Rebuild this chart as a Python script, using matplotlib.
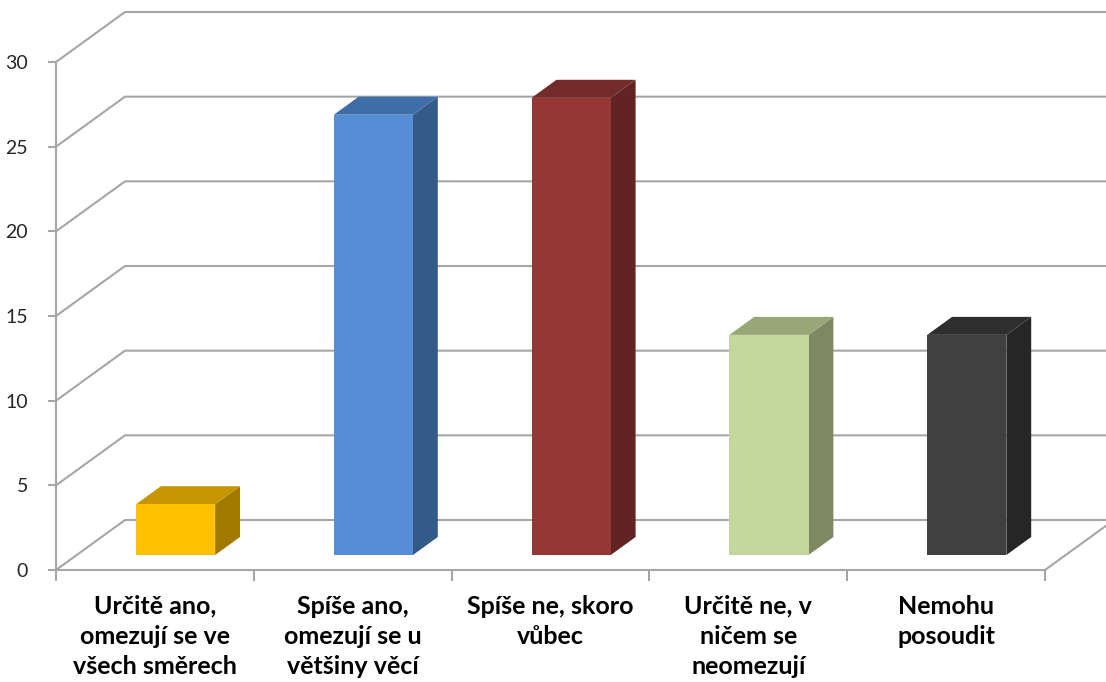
import matplotlib.pyplot as plt
import numpy as np

plt.rcParams['font.family'] = ['Lato', 'DejaVu Sans']

categories = ["Určitě ano,\nomezují se ve\nvšech směrech",
              "Spíše ano,\nomezují se u\nvětšiny věcí",
              "Spíše ne, skoro\nvůbec",
              "Určitě ne, v\nničem se\nneomezují",
              "Nemohu\nposoudit"]
values = [3, 26, 27, 13, 13]
front_cols = ["#FFC000", "#558ED5", "#953735", "#C3D69B", "#404040"]
top_cols = ["#C79500", "#3F6DA7", "#722B2A", "#97A777", "#2E2E2E"]
side_cols = ["#A37A00", "#345A88", "#612423", "#7E8964", "#262626"]
yticks = [0, 5, 10, 15, 20, 25, 30]

W, H = 1106, 682
fig = plt.figure(figsize=(W / 100, H / 100), dpi=100)
# front plane of the chart: x 56..1045 px, y 570..62 px
ax = fig.add_axes([56 / W, (H - 570) / H, (1045 - 56) / W, (570 - 62) / H])
ax.set_xlim(0, 5)
ax.set_ylim(0, 30)

grid = "#A6A6A6"
# depth offset of the back wall in data units
DX = 69 / ((1045 - 56) / 5)
DY = 50 / ((570 - 62) / 30)

for v in yticks:
    ax.plot([0, DX, 6], [v, v + DY, v + DY], color=grid, lw=1.5,
            clip_on=False, zorder=1)
# floor front/right edge
ax.plot([5, 5 + DX], [0, DY], color=grid, lw=1.5, clip_on=False, zorder=1)

d0, d1 = 0.3, 0.66
bw = 0.4
for i, (v, fc, tc, sc) in enumerate(zip(values, front_cols, top_cols, side_cols)):
    x0 = i + 0.5 - bw / 2 + d0 * DX
    x1 = x0 + bw
    y0 = d0 * DY
    y1 = y0 + v
    ox, oy = (d1 - d0) * DX, (d1 - d0) * DY
    ax.fill([x1, x1 + ox, x1 + ox, x1], [y0, y0 + oy, y1 + oy, y1],
            color=sc, zorder=3, clip_on=False, lw=0)
    ax.fill([x0, x1, x1 + ox, x0 + ox], [y1, y1, y1 + oy, y1 + oy],
            color=tc, zorder=3, clip_on=False, lw=0)
    ax.fill([x0, x1, x1, x0], [y0, y0, y1, y1],
            color=fc, zorder=4, clip_on=False, lw=0)

for s in ["top", "right"]:
    ax.spines[s].set_visible(False)
ax.spines["left"].set_color(grid)
ax.spines["bottom"].set_color(grid)
ax.spines["left"].set_linewidth(1.5)
ax.spines["bottom"].set_linewidth(1.5)
ax.spines["left"].set_zorder(2)

ax.set_yticks(yticks)
ax.set_yticklabels([str(t) for t in yticks], fontsize=14, color="#262626")
ax.tick_params(axis="y", length=6, width=1.5, color=grid, pad=14)

ax.set_xticks(np.arange(0, 6))
ax.set_xticklabels([])
ax.tick_params(axis="x", length=8, width=1.5, color=grid, direction="out")
for i, lab in enumerate(categories):
    ax.text(i + 0.5, -1.45, lab, ha="center", va="top", fontsize=18,
            fontweight="bold", linespacing=1.38, color="#000000")

fig.savefig("out.png", dpi=100)
